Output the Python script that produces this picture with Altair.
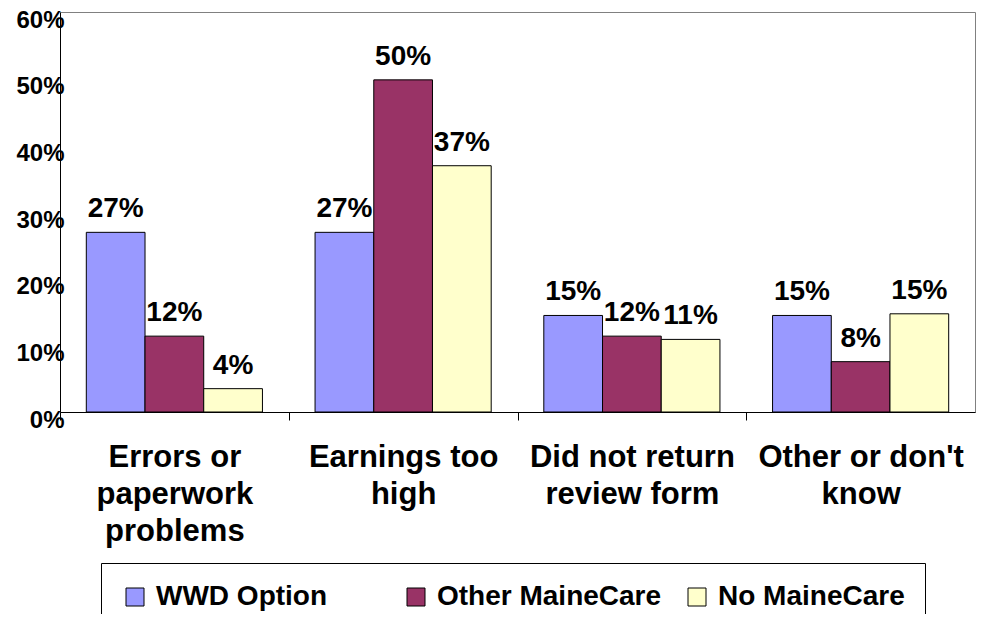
import altair as alt
import pandas as pd

categories = ["Errors or|paperwork|problems", "Earnings too|high",
              "Did not return|review form", "Other or don't|know"]
series = ["WWD Option", "Other MaineCare", "No MaineCare"]
colors = ["#9999FF", "#993366", "#FFFFCC"]

wwd = [0.2695, 0.2695, 0.1448, 0.1448]
other = [0.1138, 0.4982, 0.1138, 0.0755]
nomc = [0.0350, 0.3694, 0.1089, 0.1473]

wwd_lbl = ["27%", "27%", "15%", "15%"]
other_lbl = ["12%", "50%", "12%", "8%"]
nomc_lbl = ["4%", "37%", "11%", "15%"]

y_ticks = [0, 0.1, 0.2, 0.3, 0.4, 0.5, 0.6]

rows = []
for s, vals, lbls in zip(series, [wwd, other, nomc], [wwd_lbl, other_lbl, nomc_lbl]):
    for c, v, l in zip(categories, vals, lbls):
        rows.append({"cat": c, "series": s, "value": v, "label": l})
df = pd.DataFrame(rows)

FONT = "Liberation Sans"
HALF_STEP = 915 / 4 / 2

x = alt.X(
    "cat:N", sort=categories, title=None,
    scale=alt.Scale(paddingInner=0.23, paddingOuter=0.115),
    axis=alt.Axis(
        labelExpr="split(datum.label, '|')", labelAngle=0, labelFont=FONT,
        labelFontWeight="bold", labelFontSize=31, labelLineHeight=37,
        labelBaseline="top", labelPadding=22, tickSize=8,
        tickOffset=-HALF_STEP, labelOffset=HALF_STEP,
        domainColor="black", tickColor="black", labelColor="black",
        labelLimit=400, domainWidth=1,
    ),
)
xoff = alt.XOffset("series:N", sort=series,
                   scale=alt.Scale(domain=series, paddingInner=0, paddingOuter=0))
y = alt.Y(
    "value:Q", title=None,
    scale=alt.Scale(domain=[0, 0.6], nice=False),
    axis=alt.Axis(
        format="0%", values=y_ticks, grid=False, ticks=False, labelPadding=-4,
        labelFont=FONT, labelFontSize=24, labelFontWeight="bold",
        labelColor="black", labelBaseline="middle", labelOffset=8,
        labelFlush=False, labelOverlap=False, domainColor="black",
    ),
)

color = alt.Color(
    "series:N", sort=series,
    scale=alt.Scale(domain=series, range=colors),
    legend=alt.Legend(
        orient="none", legendX=41, legendY=551, direction="horizontal",
        columns=3, title=None, symbolType="square", symbolSize=324,
        symbolStrokeColor="black", symbolStrokeWidth=1, symbolOpacity=1,
        labelFont=FONT, labelFontSize=28, labelFontWeight="bold",
        labelColor="black", labelOffset=7, labelLimit=400,
        strokeColor="black", fillColor="white", padding=20,
        columnPadding=21, gridAlign="all",
    ),
)

bars = alt.Chart(df).mark_bar(stroke="black", strokeWidth=1).encode(
    x=x, xOffset=xoff, y=y, color=color
)

text = alt.Chart(df).mark_text(
    dy=-15, baseline="alphabetic", font=FONT, fontSize=28,
    fontWeight="bold", color="black"
).encode(x=x, xOffset=xoff, y=y, text="label:N")

chart = alt.layer(bars, text).properties(
    width=915, height=400,
    autosize=alt.AutoSizeParams(type="none"),
    padding={"left": 52, "top": 4, "right": 8, "bottom": 202},
    background="white",
).configure_view(stroke="#808080", strokeWidth=1)

chart.save("out.html", embed_options={"renderer": "svg", "actions": False})
